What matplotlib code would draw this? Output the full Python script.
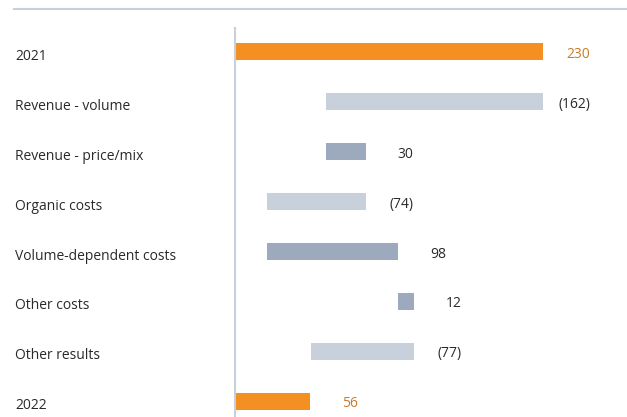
import matplotlib
matplotlib.use("Agg")
import matplotlib.pyplot as plt
from matplotlib.lines import Line2D
from matplotlib.transforms import ScaledTranslation

plt.rcParams['font.family'] = ['Open Sans', 'DejaVu Sans']

categories = ["2021", "Revenue - volume", "Revenue - price/mix", "Organic costs",
              "Volume-dependent costs", "Other costs", "Other results", "2022"]
values = [230, -162, 30, -74, 98, 12, -77, 56]
is_total = [True, False, False, False, False, False, False, True]

ORANGE = "#F39021"
ORANGE_TEXT = "#C97A2C"
NEG = "#C8D0DB"
POS = "#9DAABD"
TEXT = "#2A2A2A"

fig = plt.figure(figsize=(6.27, 4.17), dpi=100)
W, H = 627, 417
ax_left = 235 / W
ax_top = (H - 28) / H
ax = fig.add_axes([ax_left, 0.0, 1 - ax_left, ax_top])

running = 0
for i, (v, tot) in enumerate(zip(values, is_total)):
    if tot:
        start, end = 0, v
        color = ORANGE
        running = v
    else:
        start, end = running, running + v
        color = POS if v > 0 else NEG
        running = end
    left = min(start, end)
    width = abs(end - start)
    ax.barh(i, width, left=left, height=0.34, color=color, linewidth=0)
    label = f"({abs(v)})" if v < 0 else f"{v}"
    ax.annotate(label, xy=(left + width, i), xytext=(34.2, -2),
                textcoords="offset points", ha="right", va="center",
                fontsize=10, color=ORANGE_TEXT if tot else TEXT)

ax.set_xlim(0, (W - 235) / 1.339)
ax.set_ylim(7.32, -0.471)
ax.set_yticks(range(len(categories)))
ax.set_yticklabels(categories, fontsize=10, color=TEXT)
ax.tick_params(axis="y", length=0, pad=(235 - 15) * 72 / 100)
ax.tick_params(axis="x", bottom=False, labelbottom=False)
shift = ScaledTranslation(0, -2 / 72, fig.dpi_scale_trans)
for lab in ax.get_yticklabels():
    lab.set_horizontalalignment("left")
    lab.set_transform(lab.get_transform() + shift)
for s in ["top", "right", "bottom"]:
    ax.spines[s].set_visible(False)
ax.spines["left"].set_color(NEG)
ax.spines["left"].set_linewidth(1.5)

# rule across the top of the figure
fig.add_artist(Line2D([14 / W, 1.0], [(H - 9) / H, (H - 9) / H],
                      color=NEG, linewidth=1.5, transform=fig.transFigure))

fig.savefig("out.png", dpi=100)
